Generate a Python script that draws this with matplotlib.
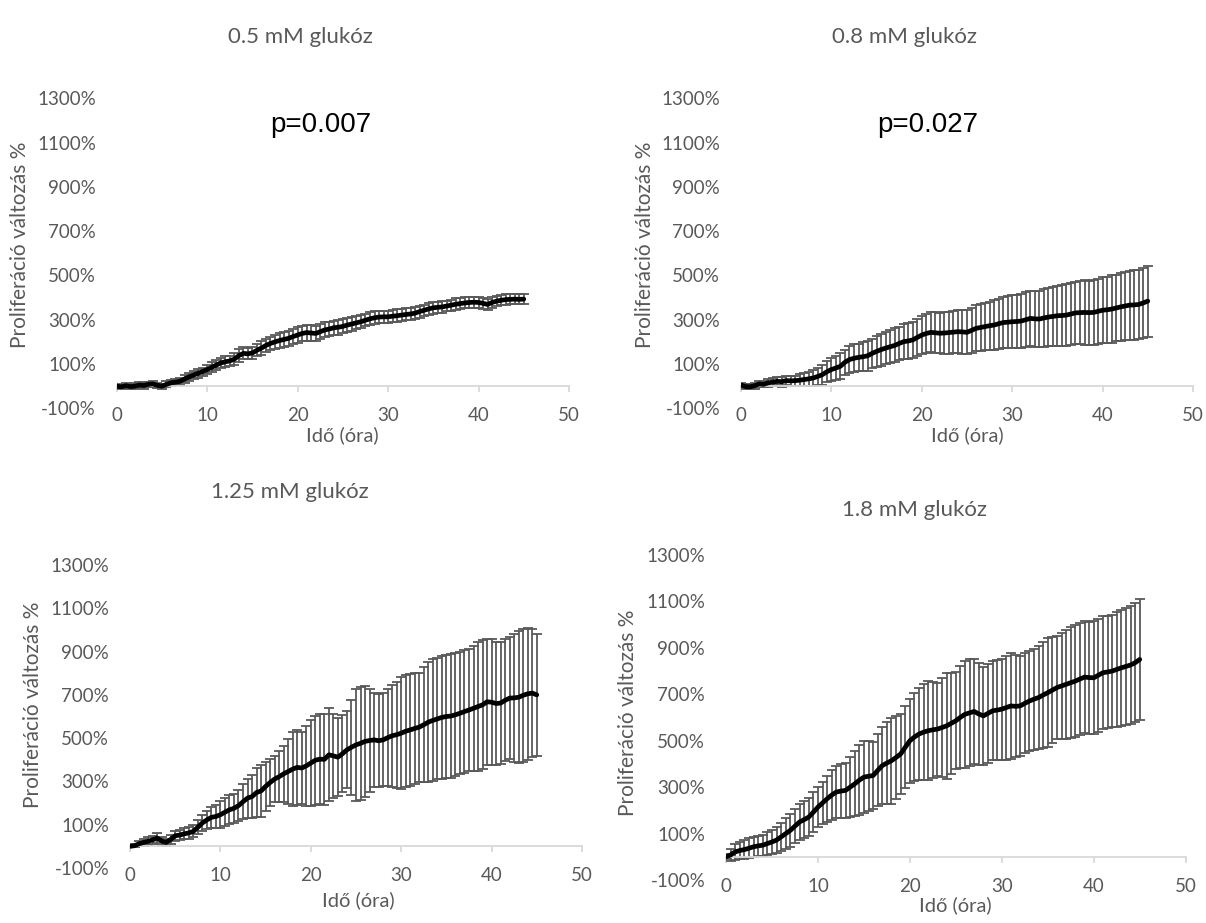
import numpy as np
import matplotlib
matplotlib.use("Agg")
import matplotlib.pyplot as plt
from matplotlib.ticker import FuncFormatter

# idő (óra), félórás mérések
ido = np.arange(0, 45.5, 0.5)

cimek = ["0.5 mM glukóz", "0.8 mM glukóz", "1.25 mM glukóz", "1.8 mM glukóz"]
p_ertekek = ["p=0.007", "p=0.027", None, None]

# átlag proliferáció változás (%)
atlag_05 = [0, -3, 2, -2, 0, 5, 3, 8, 10, 4,
            0, 8, 15, 18, 22, 32, 42, 50, 58, 66,
            75, 85, 95, 105, 110, 114, 122, 138, 148, 146,
            150, 162, 172, 184, 193, 200, 206, 211, 216, 224,
            231, 238, 242, 240, 238, 246, 254, 258, 264, 266,
            270, 276, 281, 286, 291, 298, 304, 309, 312, 313,
            313, 316, 318, 321, 324, 326, 330, 337, 343, 349,
            354, 356, 358, 362, 366, 370, 373, 376, 378, 379,
            378, 374, 369, 378, 384, 388, 391, 392, 393, 392,
            393]
hiba_05 = [8, 10, 12, 10, 14, 12, 15, 12, 14, 12,
           12, 14, 13, 15, 16, 18, 17, 19, 20, 18,
           20, 22, 21, 24, 25, 23, 26, 28, 27, 25,
           26, 28, 30, 29, 31, 33, 32, 34, 35, 33,
           35, 34, 36, 38, 35, 33, 34, 32, 31, 33,
           32, 30, 31, 29, 30, 28, 29, 30, 28, 27,
           28, 27, 29, 26, 27, 28, 26, 27, 25, 26,
           27, 25, 26, 24, 25, 26, 24, 25, 23, 24,
           25, 24, 23, 24, 22, 23, 24, 22, 23, 22,
           23]

atlag_08 = [5, -2, -3, 2, 10, 8, 15, 18, 22, 20,
            25, 24, 25, 27, 30, 33, 37, 44, 52, 65,
            75, 82, 90, 108, 120, 126, 130, 133, 137, 148,
            157, 165, 172, 178, 184, 193, 201, 204, 209, 220,
            231, 238, 243, 241, 239, 240, 242, 244, 246, 245,
            243, 252, 261, 265, 269, 273, 276, 282, 287, 289,
            291, 292, 294, 300, 306, 304, 303, 308, 312, 315,
            318, 319, 321, 326, 331, 332, 333, 332, 333, 338,
            343, 345, 348, 353, 358, 362, 366, 367, 369, 376,
            384]
hiba_08 = [8, 10, 12, 14, 15, 14, 18, 17, 19, 22,
           20, 24, 23, 26, 30, 33, 36, 40, 45, 48,
           52, 56, 58, 57, 60, 63, 62, 66, 68, 67,
           70, 72, 71, 75, 77, 76, 80, 82, 81, 84,
           85, 88, 90, 92, 91, 93, 95, 94, 97, 99,
           100, 103, 104, 106, 105, 108, 112, 113, 116, 118,
           120, 121, 122, 124, 126, 125, 127, 130, 132, 134,
           136, 138, 139, 141, 140, 143, 145, 144, 146, 148,
           148, 150, 152, 151, 153, 155, 156, 158, 157, 159,
           160]

atlag_125 = [0, 3, 12, 18, 23, 30, 38, 25, 18, 32,
             49, 52, 58, 62, 69, 88, 108, 122, 134, 138,
             146, 158, 169, 176, 188, 206, 223, 230, 249, 256,
             277, 295, 311, 322, 335, 346, 357, 365, 362, 372,
             385, 398, 403, 402, 423, 418, 412, 428, 446, 458,
             469, 476, 485, 489, 492, 488, 492, 502, 511, 516,
             523, 532, 538, 545, 551, 562, 574, 582, 589, 596,
             600, 602, 608, 615, 623, 630, 638, 646, 654, 668,
             666, 660, 662, 675, 685, 686, 689, 698, 705, 708,
             700]
hiba_125 = [5, 8, 12, 15, 18, 20, 22, 20, 18, 20,
            22, 24, 25, 26, 28, 32, 36, 42, 48, 55,
            62, 64, 66, 68, 72, 80, 90, 100, 115, 120,
            115, 110, 105, 118, 128, 150, 170, 172, 168, 185,
            200, 205, 208, 210, 215, 195, 180, 178, 178, 220,
            258, 260, 258, 240, 218, 215, 215, 225, 235, 245,
            258, 260, 258, 255, 252, 265, 278, 282, 280, 283,
            285, 286, 284, 282, 282, 284, 290, 298, 298, 292,
            290, 286, 283, 282, 282, 295, 305, 308, 306, 295,
            282]

atlag_18 = [0, 8, 21, 27, 31, 37, 43, 47, 50, 57,
            64, 72, 86, 100, 114, 132, 150, 160, 171, 192,
            214, 232, 250, 266, 279, 283, 286, 300, 314, 330,
            343, 347, 350, 372, 393, 404, 414, 428, 443, 472,
            500, 516, 529, 537, 543, 547, 550, 557, 564, 575,
            586, 601, 614, 620, 626, 615, 607, 618, 629, 632,
            636, 643, 650, 648, 650, 661, 671, 679, 686, 697,
            707, 718, 729, 736, 743, 750, 757, 766, 774, 772,
            771, 782, 793, 796, 800, 807, 814, 820, 826, 836,
            850]
hiba_18 = [10, 25, 35, 38, 40, 42, 42, 44, 45, 48,
           52, 56, 60, 66, 70, 74, 78, 80, 82, 86,
           86, 92, 98, 106, 112, 116, 118, 130, 140, 150,
           155, 150, 143, 155, 165, 175, 185, 178, 171, 176,
           180, 190, 200, 208, 214, 206, 200, 215, 228, 218,
           208, 220, 230, 230, 228, 220, 212, 214, 214, 216,
           218, 224, 228, 220, 214, 215, 215, 218, 220, 228,
           235, 228, 222, 230, 236, 240, 243, 242, 240, 241,
           243, 243, 243, 243, 243, 246, 250, 252, 253, 256,
           261]

atlagok = [atlag_05, atlag_08, atlag_125, atlag_18]
hibak = [hiba_05, hiba_08, hiba_125, hiba_18]

x_ticks = [0, 10, 20, 30, 40, 50]
y_ticks = [-100, 100, 300, 500, 700, 900, 1100, 1300]

# elrendezés pixelben: bal, jobb, alsó (-100%), felső (1300%)
W, H = 1206, 923
dobozok = [(116.7, 569, 408.3, 98.3),
           (741, 1193, 408.3, 98.3),
           (130, 582, 868, 565),
           (726, 1185.7, 880, 555)]
cim_hely = [(300, 37), (905, 37), (290, 492), (915, 510)]
p_hely = [(321, 125), (928, 125), None, None]
xcimke_hely = [(342, 435), (967, 435), (358, 900), (955, 905)]
ycimke_hely = [(20, 245), (645, 245), (33, 705), (628, 713)]

szurke = "#595959"
vonal_szurke = "#d9d9d9"
betu = "Lato"

fig = plt.figure(figsize=(W / 100, H / 100), dpi=100)
fig.patch.set_facecolor("white")


def fx(x):
    return x / W


def fy(y):
    return 1 - y / H


for i in range(4):
    bal, jobb, also, felso = dobozok[i]
    ax = fig.add_axes([fx(bal), fy(also), (jobb - bal) / W, (also - felso) / H])

    ax.errorbar(ido, atlagok[i], yerr=hibak[i], fmt="none", ecolor=szurke,
                elinewidth=1.3, capsize=3.4, capthick=1.3, zorder=2)
    ax.plot(ido, atlagok[i], color="black", lw=3.4, solid_capstyle="round",
            solid_joinstyle="round", zorder=3)

    ax.set_xlim(0, 50)
    ax.set_ylim(-100, 1300)
    ax.set_xticks(x_ticks)
    ax.set_yticks(y_ticks)
    ax.yaxis.set_major_formatter(FuncFormatter(lambda v, pos: f"{int(v)}%"))

    for s in ["top", "right", "left"]:
        ax.spines[s].set_visible(False)
    ax.spines["bottom"].set_position(("data", 0))
    ax.spines["bottom"].set_color(vonal_szurke)
    ax.spines["bottom"].set_linewidth(1.3)
    ax.tick_params(axis="x", direction="out", length=4, width=1.3,
                   color=vonal_szurke, labelcolor=szurke, labelsize=13.5, pad=11)
    ax.tick_params(axis="y", length=0, labelcolor=szurke, labelsize=13.5, pad=15)
    for lab in ax.get_xticklabels() + ax.get_yticklabels():
        lab.set_fontfamily(betu)

    fig.text(fx(cim_hely[i][0]), fy(cim_hely[i][1]), cimek[i], ha="center",
             va="center", fontsize=16, color=szurke, family=betu)
    fig.text(fx(xcimke_hely[i][0]), fy(xcimke_hely[i][1]), "Idő (óra)",
             ha="center", va="center", fontsize=14.5, color=szurke, family=betu)
    fig.text(fx(ycimke_hely[i][0]), fy(ycimke_hely[i][1]),
             "Proliferáció változás %", ha="center", va="center",
             rotation=90, fontsize=15, color=szurke, family=betu)
    if p_ertekek[i]:
        fig.text(fx(p_hely[i][0]), fy(p_hely[i][1]), p_ertekek[i],
                 ha="center", va="center", fontsize=20, color="black",
                 family="Liberation Sans")

fig.savefig("out.png", dpi=100, facecolor="white")
